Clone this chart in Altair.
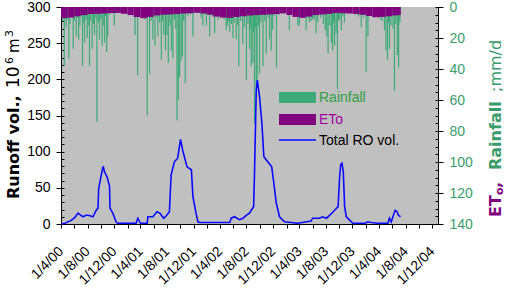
import altair as alt
import pandas as pd

# ---------------------------------------------------------------- data
# Daily rainfall events (mm/d); days not listed had no rain
rain_date = [
    "2000-04-05", "2000-04-10", "2000-04-16", "2000-04-20", "2000-04-25", "2000-05-02", "2000-05-07",
    "2000-05-12", "2000-05-18", "2000-05-27", "2000-06-02", "2000-06-10", "2000-06-15", "2000-06-21",
    "2000-06-27", "2000-07-03", "2000-07-09", "2000-07-14", "2000-07-19", "2000-07-25", "2000-07-31",
    "2000-08-04", "2000-08-10", "2000-08-16", "2000-08-22", "2000-08-28", "2000-09-02", "2000-09-08",
    "2000-09-13", "2000-09-19", "2000-09-25", "2000-10-01", "2000-10-07", "2000-10-12", "2000-10-18",
    "2000-10-23", "2000-10-28", "2000-11-02", "2000-11-10", "2000-11-20", "2000-12-02",
    "2001-03-07", "2001-03-19", "2001-03-28", "2001-04-10", "2001-04-22", "2001-05-02", "2001-05-13",
    "2001-05-20", "2001-05-28", "2001-06-07", "2001-06-13", "2001-06-20", "2001-06-28", "2001-07-06",
    "2001-07-11", "2001-07-17", "2001-07-25", "2001-07-31", "2001-08-07", "2001-08-14", "2001-08-21",
    "2001-08-28", "2001-09-04", "2001-09-10", "2001-09-16", "2001-09-22", "2001-09-28", "2001-10-05",
    "2001-10-11", "2001-10-17", "2001-10-24", "2001-11-05", "2001-11-15", "2001-11-28", "2001-12-20",
    "2002-01-05", "2002-01-13", "2002-01-22", "2002-01-29", "2002-02-13", "2002-02-25", "2002-03-08",
    "2002-03-23", "2002-04-10", "2002-04-20", "2002-04-30", "2002-05-06", "2002-05-11", "2002-05-16",
    "2002-05-24", "2002-05-31", "2002-06-05", "2002-06-15", "2002-06-22", "2002-06-27", "2002-07-05",
    "2002-07-15", "2002-07-22", "2002-08-01", "2002-08-08", "2002-08-15", "2002-08-19", "2002-08-23",
    "2002-08-30", "2002-09-03", "2002-09-07", "2002-09-11", "2002-09-15", "2002-09-19", "2002-09-25",
    "2002-09-30", "2002-10-07", "2002-10-16", "2002-10-24", "2002-10-31", "2002-11-08", "2002-11-15",
    "2002-11-23", "2002-11-30", "2002-12-05", "2002-12-17", "2002-12-28",
    "2003-01-20", "2003-02-14", "2003-03-05", "2003-03-25", "2003-04-01", "2003-04-15", "2003-05-02",
    "2003-05-10", "2003-05-17", "2003-05-25", "2003-06-01", "2003-06-09", "2003-06-17", "2003-06-25",
    "2003-07-08", "2003-07-20", "2003-07-29", "2003-08-05", "2003-08-11", "2003-08-18", "2003-08-26",
    "2003-09-01", "2003-09-05", "2003-09-10", "2003-09-17", "2003-09-23", "2003-09-28", "2003-10-04",
    "2003-10-11", "2003-10-18", "2003-10-25", "2003-12-15", "2003-12-28",
    "2004-01-10", "2004-01-20", "2004-02-02", "2004-02-10", "2004-02-20", "2004-03-10", "2004-04-05",
    "2004-04-15", "2004-04-26", "2004-05-03", "2004-05-10", "2004-05-14", "2004-05-19", "2004-05-26",
    "2004-06-04", "2004-06-11", "2004-06-17", "2004-06-24", "2004-06-30", "2004-07-02", "2004-07-06",
]
rain_mm = [
    6, 9, 38, 5, 13, 8, 33,
    11, 6, 27, 9, 19, 7, 21,
    12, 6, 38, 10, 23, 8, 20,
    12, 38, 9, 27, 11, 18, 7,
    74, 10, 21, 8, 25, 12, 23,
    6, 29, 19, 5, 4, 12,
    18, 44, 5, 6, 8, 70, 43,
    9, 21, 25, 7, 19, 10, 34,
    9, 18, 28, 18, 36, 12, 28,
    33, 8, 14, 73, 60, 45, 35,
    32, 9, 49, 6, 5, 19, 4,
    7, 12, 5, 12, 19, 6, 17,
    8, 5, 8, 15, 12, 9, 16,
    11, 20, 10, 21, 12, 38, 9,
    24, 13, 47, 11, 27, 14, 38,
    36, 16, 75, 13, 51, 47, 12,
    43, 10, 38, 9, 30, 7, 21,
    28, 15, 6, 39, 5,
    4, 15, 5, 12, 12, 6, 15,
    7, 10, 9, 8, 8, 17, 10,
    7, 11, 15, 19, 30, 12, 23,
    28, 10, 25, 17, 53, 9, 8,
    15, 6, 10, 5, 6,
    13, 7, 42, 19, 5, 6, 8,
    9, 15, 28, 34, 10, 27, 12,
    14, 54, 11, 31, 39, 8, 10,
]

# Reference evapotranspiration ETo, monthly mean (mm/d)
eto_month = [
    "2000-04-01", "2000-05-01", "2000-06-01", "2000-07-01", "2000-08-01", "2000-09-01",
    "2000-10-01", "2000-11-01", "2000-12-01",
    "2001-01-01", "2001-02-01", "2001-03-01", "2001-04-01", "2001-05-01", "2001-06-01",
    "2001-07-01", "2001-08-01", "2001-09-01", "2001-10-01", "2001-11-01", "2001-12-01",
    "2002-01-01", "2002-02-01", "2002-03-01", "2002-04-01", "2002-05-01", "2002-06-01",
    "2002-07-01", "2002-08-01", "2002-09-01", "2002-10-01", "2002-11-01", "2002-12-01",
    "2003-01-01", "2003-02-01", "2003-03-01", "2003-04-01", "2003-05-01", "2003-06-01",
    "2003-07-01", "2003-08-01", "2003-09-01", "2003-10-01", "2003-11-01", "2003-12-01",
    "2004-01-01", "2004-02-01", "2004-03-01", "2004-04-01", "2004-05-01", "2004-06-01",
    "2004-07-01",
]
eto_mm = [
    7.2, 6.8, 6.0, 5.2, 4.5, 4.4,
    4.2, 3.9, 3.8,
    4.3, 5.2, 6.5, 7.2, 6.4, 5.4,
    5.0, 4.8, 4.5, 4.2, 4.0, 3.7,
    4.2, 5.0, 6.2, 6.8, 7.0, 6.4,
    6.0, 5.5, 5.2, 5.0, 4.8, 4.5,
    4.1, 5.2, 6.4, 7.0, 6.2, 5.2,
    4.8, 4.4, 3.9, 4.0, 4.2, 4.4,
    5.0, 5.8, 6.6, 6.4, 6.0, 5.4,
    5.2,
]
eto_last_day = "2004-07-10"

# Total runoff volume (10^6 m^3)
ro_date = [
    "2000-04-01", "2000-04-19", "2000-05-18", "2000-06-04", "2000-06-18", "2000-06-27", "2000-07-11",
    "2000-07-25", "2000-08-03", "2000-08-16", "2000-08-26", "2000-09-10", "2000-09-18", "2000-09-21",
    "2000-09-30", "2000-10-06", "2000-10-12", "2000-10-18", "2000-10-30", "2000-11-10", "2000-11-12",
    "2000-11-25", "2000-12-10", "2000-12-18", "2001-03-12", "2001-03-20", "2001-04-01", "2001-05-02",
    "2001-05-05", "2001-05-28", "2001-06-16", "2001-06-29", "2001-07-17", "2001-07-31", "2001-08-12",
    "2001-08-20", "2001-09-04", "2001-09-19", "2001-10-02", "2001-10-12", "2001-11-01", "2001-11-21",
    "2001-11-28", "2001-12-11", "2001-12-21", "2001-12-29", "2002-05-16", "2002-05-23", "2002-06-07",
    "2002-06-30", "2002-07-16", "2002-07-31", "2002-08-15", "2002-08-23", "2002-09-03", "2002-09-07",
    "2002-09-15", "2002-09-20", "2002-09-30", "2002-10-11", "2002-10-20", "2002-11-07", "2002-11-25",
    "2002-12-05", "2002-12-16", "2002-12-31", "2003-01-23", "2003-03-25", "2003-05-25", "2003-06-01",
    "2003-07-02", "2003-07-17", "2003-08-03", "2003-08-18", "2003-09-10", "2003-09-26", "2003-10-03",
    "2003-10-08", "2003-10-14", "2003-10-20", "2003-10-26", "2003-11-03", "2003-11-26", "2003-12-03",
    "2004-01-29", "2004-02-10", "2004-02-25", "2004-03-27", "2004-05-12", "2004-05-19", "2004-05-27",
    "2004-06-04", "2004-06-14", "2004-06-23", "2004-06-29", "2004-07-09",
]
ro_vol = [
    0, 1, 5, 9, 15, 13, 10,
    12, 12, 11, 10, 19, 22, 49,
    63, 72, 80, 72, 65, 52, 22,
    15, 3, 1, 1, 8, 1, 1,
    10, 10, 17, 15, 8, 12, 17,
    68, 86, 91, 117, 102, 79, 75,
    38, 17, 3, 2, 2, 8, 10,
    6, 8, 12, 15, 19, 24, 70,
    185, 199, 176, 139, 93, 86, 79,
    56, 29, 10, 3, 1, 4, 8,
    8, 10, 8, 12, 19, 24, 65,
    82, 84, 72, 24, 10, 3, 1,
    1, 3, 2, 1, 1, 8, 3,
    10, 19, 17, 12, 10,
]

rain = pd.DataFrame({"date": rain_date, "mm": rain_mm})
eto = pd.DataFrame({"start": eto_month, "end": eto_month[1:] + [eto_last_day], "mm": eto_mm})
ro = pd.DataFrame({"date": ro_date, "vol": ro_vol})

# ---------------------------------------------------------------- styling
W, H = 377, 217
GREEN = "#3daa77"
GREEN_TXT = "#3a9c6b"
PURPLE = "#800080"
BLUE = "#0a0aff"
LABEL_FONT = "Liberation Sans"
TITLE_FONT = "DejaVu Sans"

x_ticks = []
yy, mm = 2000, 4
while (yy, mm) <= (2004, 12):
    x_ticks.append(alt.DateTime(year=yy, month=mm, date=1, utc=True))
    mm += 2
    if mm > 12:
        mm -= 12
        yy += 1

x_scale = alt.Scale(
    type="utc",
    domain=[alt.DateTime(year=2000, month=4, date=1, utc=True),
            alt.DateTime(year=2004, month=12, date=28, utc=True)],
)
x_axis = alt.Axis(
    values=x_ticks,
    labelExpr="utcmonth(datum.value) % 4 == 3 ? utcFormat(datum.value, '%-d/%-m/%y') : ''",
    labelAngle=-45, labelAlign="right", labelBaseline="middle",
    labelPadding=21, tickSize=4, labelOverlap=False, labelFlush=False, labelBound=False,
    title=None, grid=False,
)

# minor ticks point into the plot (short grid dashes), major ticks also point outwards
rain_scale = alt.Scale(domain=[0, 140], reverse=True, nice=False, zero=True)
right_axis = alt.Axis(
    orient="right", values=list(range(0, 141, 5)),
    labelExpr="datum.value % 20 == 0 ? datum.label : ''",
    tickSize={"condition": {"test": "datum.value % 20 == 0", "value": 5}, "value": 0},
    grid=True, gridDash=[3, 2000], gridColor="black", gridWidth=1, gridOpacity=1,
    labelColor=GREEN_TXT, labelPadding=6, labelOverlap=False, labelFlush=False, title=None,
)
ro_scale = alt.Scale(domain=[0, 300], nice=False)
left_axis = alt.Axis(
    orient="left", values=list(range(0, 301, 10)),
    labelExpr="datum.value % 50 == 0 ? datum.label : ''",
    tickSize={"condition": {"test": "datum.value % 50 == 0", "value": 5}, "value": 0},
    grid=True, gridDash=[3, 2000], gridColor="black", gridWidth=1, gridOpacity=1,
    labelPadding=6, labelOverlap=False, labelFlush=False, title=None,
)

# ---------------------------------------------------------------- marks
rain_bars = alt.Chart(rain).mark_rule(color=GREEN, strokeWidth=1.2).encode(
    x=alt.X("date:T", scale=x_scale, axis=x_axis),
    y=alt.Y("mm:Q", scale=rain_scale, axis=right_axis),
    y2=alt.value(0),
)
eto_band = alt.Chart(eto).mark_rect(color=PURPLE).encode(
    x=alt.X("start:T", scale=x_scale, axis=x_axis),
    x2="end:T",
    y=alt.Y("mm:Q", scale=rain_scale, axis=right_axis),
    y2=alt.value(0),
)
runoff = alt.Chart(ro).mark_line(color=BLUE, strokeWidth=1.6).encode(
    x=alt.X("date:T", scale=x_scale, axis=x_axis),
    y=alt.Y("vol:Q", scale=ro_scale, axis=left_axis),
)

one = alt.Data(values=[{}])


def text(t, x, y, **kw):
    return alt.Chart(one).mark_text(text=t, **kw).encode(x=alt.value(x), y=alt.value(y))


def box(x1, x2, y1, y2, color):
    return alt.Chart(one).mark_rect(color=color).encode(
        x=alt.value(x1), x2=alt.value(x2), y=alt.value(y1), y2=alt.value(y2))


legend = [
    box(218, 255, 85, 96, GREEN),
    box(218, 255, 107, 118, PURPLE),
    alt.Chart(one).mark_rule(color=BLUE, strokeWidth=1.6).encode(
        x=alt.value(218), x2=alt.value(255), y=alt.value(133)),
    text("Rainfall", 258, 91, align="left", baseline="middle", font=LABEL_FONT,
         fontSize=14, color="#2e9e44"),
    text("ETo", 258, 113, align="left", baseline="middle", font=LABEL_FONT,
         fontSize=14, color="#a000a0"),
    text("Total RO vol.", 258, 134, align="left", baseline="middle", font=LABEL_FONT,
         fontSize=14, color="black"),
]

rot = dict(angle=270, align="left", baseline="alphabetic", font=TITLE_FONT)
titles = [
    text("Runoff vol.,", -42.5, 192, fontSize=16, fontWeight="bold", color="black", **rot),
    text("10", -42.5, 81, fontSize=17, color="black", **rot),
    text("6", -48, 57, fontSize=11, color="black", **rot),
    text("m", -42.5, 46, fontSize=15, color="black", **rot),
    text("3", -48, 30, fontSize=11, color="black", **rot),
    text("ET", 440, 210, fontSize=16, fontWeight="bold", color=PURPLE, **rot),
    text("o", 442, 188, fontSize=11, fontWeight="bold", color=PURPLE, **rot),
    text(",", 440, 181, fontSize=16, fontWeight="bold", color=PURPLE, **rot),
    text("Rainfall", 440, 163, fontSize=16, fontWeight="bold", color=GREEN_TXT, **rot),
    text(";mm/d", 440, 85, fontSize=16, color=GREEN_TXT, **rot),
]

right_part = alt.layer(rain_bars, eto_band)
chart = (
    alt.layer(right_part, runoff, *legend, *titles)
    .resolve_scale(y="independent")
    .properties(
        width=W, height=H,
        autosize=alt.AutoSizeParams(type="none"),
        padding={"left": 61, "top": 7, "right": 507 - 61 - W, "bottom": 290 - 7 - H},
    )
    .configure_view(fill="#c0c0c0", stroke=None)
    .configure_axis(
        domainColor="black", tickColor="black", domainWidth=1, tickWidth=1,
        labelFont=LABEL_FONT, labelFontSize=14, labelColor="black",
    )
)

chart.save("out.html", embed_options={"renderer": "svg", "actions": False})
